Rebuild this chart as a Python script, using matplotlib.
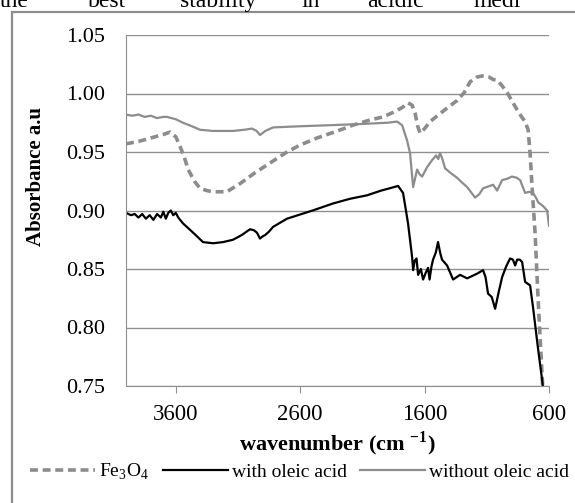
import numpy as np
import matplotlib
matplotlib.use("Agg")
import matplotlib.pyplot as plt
from matplotlib.patches import Rectangle

plt.rcParams['font.family'] = ['Liberation Serif', 'DejaVu Serif']
plt.rcParams['mathtext.fontset'] = 'custom'
plt.rcParams['mathtext.rm'] = 'Liberation Serif'
plt.rcParams['mathtext.bf'] = 'Liberation Serif:bold'

# Fe3O4 spectrum (dashed grey)
fe_x = [4000, 3900, 3800, 3700, 3646, 3600, 3566, 3530, 3500, 3450, 3405, 3350,
        3300, 3190, 3083, 2980, 2866, 2706, 2600, 2464, 2300, 2175, 2050, 1934,
        1850, 1780, 1733, 1700, 1676, 1655, 1636, 1600, 1556, 1450, 1339, 1280,
        1234, 1180, 1138, 1080, 1050, 1017, 980, 937, 900, 856, 820, 792, 768,
        752, 736, 712, 687, 655, 645]
fe_y = [0.957, 0.959, 0.962, 0.965, 0.967, 0.963, 0.955, 0.945, 0.935, 0.925,
        0.919, 0.917, 0.916, 0.916, 0.923, 0.931, 0.939, 0.950, 0.956, 0.962,
        0.968, 0.973, 0.977, 0.980, 0.984, 0.988, 0.992, 0.990, 0.983, 0.972,
        0.966, 0.970, 0.976, 0.985, 0.994, 1.001, 1.010, 1.014, 1.015, 1.014,
        1.012, 1.0115, 1.007, 1.001, 0.994, 0.986, 0.980, 0.976, 0.969, 0.949,
        0.920, 0.881, 0.823, 0.758, 0.740]

# with oleic acid (black)
ol_x = [4000, 3960, 3930, 3900, 3870, 3840, 3810, 3780, 3750, 3720, 3700, 3680,
        3660, 3640, 3620, 3600, 3580, 3542, 3460, 3381, 3300, 3220, 3140, 3070,
        3003, 2970, 2947, 2923, 2900, 2882, 2850, 2818, 2706, 2500, 2336, 2200,
        2062, 1950, 1880, 1813, 1773, 1733, 1700, 1692, 1680, 1665, 1652, 1630,
        1612, 1590, 1572, 1560, 1545, 1532, 1510, 1492, 1475, 1460, 1419, 1371,
        1315, 1258, 1178, 1130, 1110, 1090, 1060, 1033, 1005, 977, 945, 913, 890,
        872, 856, 835, 816, 792, 752, 728, 687, 655, 645]
ol_y = [0.898, 0.896, 0.897, 0.894, 0.897, 0.893, 0.896, 0.892, 0.897, 0.894,
        0.899, 0.893, 0.898, 0.900, 0.896, 0.898, 0.894, 0.889, 0.881, 0.873,
        0.872, 0.873, 0.875, 0.879, 0.884, 0.883, 0.881, 0.876, 0.878, 0.879,
        0.882, 0.886, 0.893, 0.900, 0.906, 0.910, 0.913, 0.917, 0.919, 0.921,
        0.915, 0.889, 0.860, 0.849, 0.857, 0.859, 0.845, 0.850, 0.841, 0.847,
        0.851, 0.841, 0.852, 0.858, 0.864, 0.873, 0.864, 0.858, 0.853, 0.841,
        0.845, 0.842, 0.846, 0.849, 0.843, 0.829, 0.826, 0.816, 0.830, 0.843,
        0.852, 0.859, 0.858, 0.853, 0.858, 0.858, 0.856, 0.839, 0.836, 0.817,
        0.781, 0.755, 0.745]

# without oleic acid (grey)
no_x = [4000, 3950, 3900, 3850, 3800, 3750, 3700, 3670, 3600, 3542, 3470, 3405,
        3300, 3140, 3050, 2987, 2950, 2923, 2880, 2818, 2600, 2336, 2100, 1900,
        1821, 1781, 1741, 1717, 1692, 1675, 1660, 1640, 1620, 1600, 1580, 1540,
        1508, 1490, 1476, 1460, 1435, 1390, 1339, 1300, 1258, 1194, 1160, 1130,
        1049, 1017, 977, 940, 897, 860, 832, 792, 760, 728, 700, 687, 650, 615,
        600]
no_y = [0.982, 0.981, 0.982, 0.980, 0.981, 0.979, 0.980, 0.980, 0.978, 0.975,
        0.972, 0.969, 0.968, 0.968, 0.969, 0.970, 0.968, 0.9645, 0.968, 0.971,
        0.972, 0.973, 0.974, 0.975, 0.976, 0.973, 0.960, 0.949, 0.920, 0.928,
        0.935, 0.931, 0.929, 0.933, 0.937, 0.943, 0.947, 0.944, 0.949, 0.945,
        0.936, 0.932, 0.928, 0.924, 0.920, 0.911, 0.914, 0.919, 0.922, 0.917,
        0.926, 0.927, 0.929, 0.928, 0.926, 0.915, 0.916, 0.915, 0.910, 0.907,
        0.904, 0.900, 0.887]

x_ticks = [3600, 2600, 1600, 600]
y_ticks = [0.75, 0.80, 0.85, 0.90, 0.95, 1.00, 1.05]

fig = plt.figure(figsize=(5.75, 5.03), dpi=100)
ax = fig.add_axes([126 / 575, 1 - 386 / 503, 423 / 575, 351 / 503])

grey = '#8c8c8c'
ax.plot(fe_x, fe_y, color=grey, lw=2.6, linestyle=(0, (2.2, 1.3)), label='Fe$_3$O$_4$')
ax.plot(ol_x, ol_y, color='black', lw=1.6, label='with oleic acid')
ax.plot(no_x, no_y, color=grey, lw=1.6, label='without oleic acid')

ax.set_xlim(4000, 600)
ax.set_ylim(0.75, 1.05)
ax.set_xticks(x_ticks)
ax.set_yticks(y_ticks)
ax.set_yticklabels([f'{v:.2f}' for v in y_ticks])
ax.grid(axis='y', color='#8f8f8f', lw=1)
ax.set_axisbelow(True)
for s in ['top', 'right']:
    ax.spines[s].set_visible(False)
ax.spines['left'].set_color('#8f8f8f')
ax.spines['bottom'].set_color('#8f8f8f')
ax.tick_params(axis='y', length=0, pad=15, labelsize=16)
ax.tick_params(axis='x', length=5, color='#8f8f8f', pad=8, labelsize=16.5)

ax.set_ylabel('Absorbance a.u', fontsize=15, fontweight='bold')
ax.yaxis.set_label_coords(-0.19, 0.598)
ax.set_xlabel(r'wavenumber (cm $^{\mathbf{-1}}$)', fontsize=16, fontweight='bold', labelpad=3)

fig.legend(loc='center left', bbox_to_anchor=(30 / 575, 1 - 472 / 503), ncol=3,
           frameon=False, fontsize=14, handlelength=3.35, handletextpad=0.2,
           columnspacing=0.7, borderaxespad=0, borderpad=0)

# surrounding frame and cut-off document text
fig.patches.append(Rectangle((12 / 575, -0.1), 1.2, 1 - 12 / 503 + 0.1, transform=fig.transFigure,
                             fill=False, edgecolor='#8c8c8c', lw=1.6))
words = ['the', 'best', 'stability', 'in', 'acidic', 'medi']
word_x = [0, 88, 180, 302, 367, 473]
for w, wx in zip(words, word_x):
    fig.text(wx / 575, 1 - 7 / 503, w, fontsize=17, va='baseline', ha='left')

fig.savefig('out.png', dpi=100)
